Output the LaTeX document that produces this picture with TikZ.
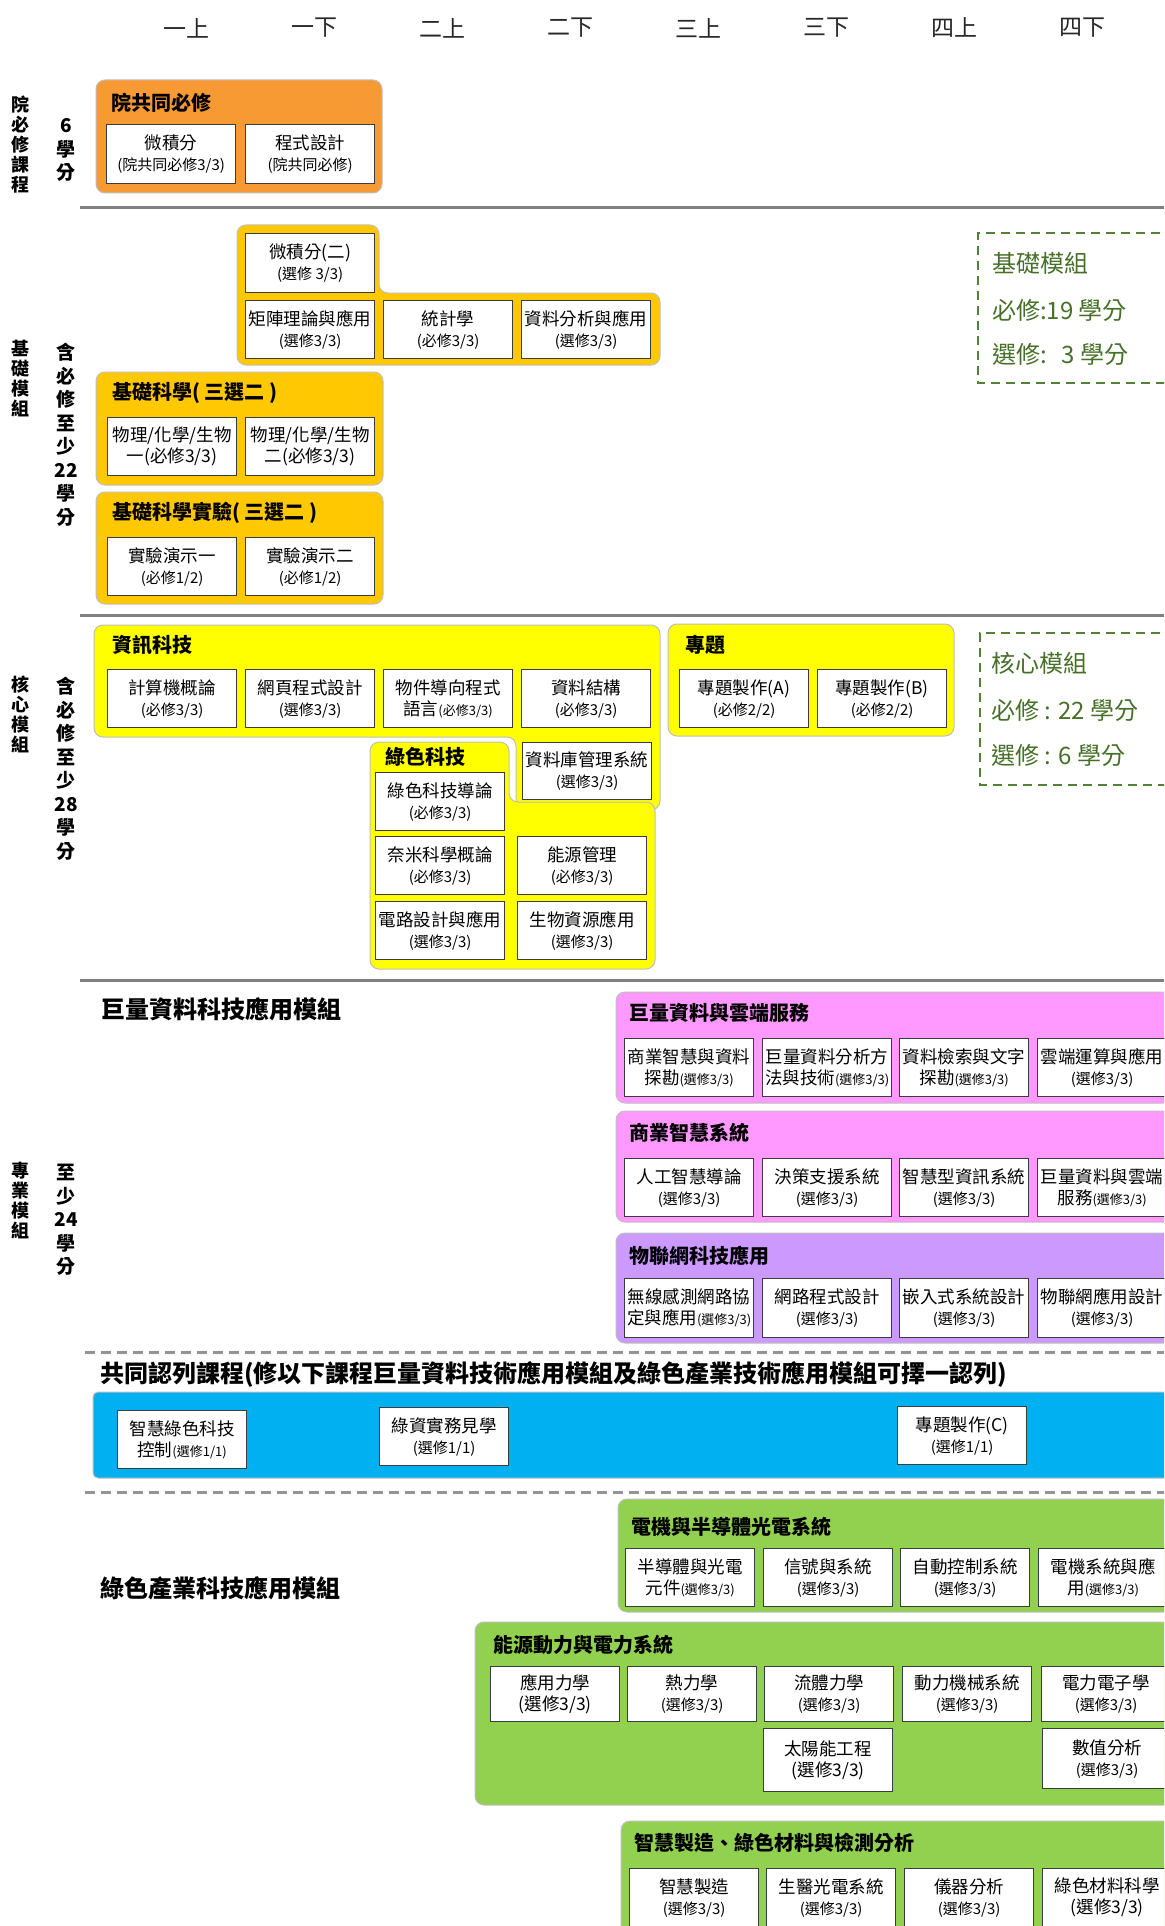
\documentclass[tikz,border=0pt]{standalone}
\usepackage{fontspec}
\setmainfont{Noto Sans CJK TC}
\usepackage{tikz}

\definecolor{orangegrp}{RGB}{248,154,52}
\definecolor{goldgrp}{RGB}{255,200,0}
\definecolor{yellowgrp}{RGB}{255,255,0}
\definecolor{pinkgrp}{RGB}{255,153,255}
\definecolor{purplegrp}{RGB}{204,153,255}
\definecolor{bluegrp}{RGB}{0,176,240}
\definecolor{greengrp}{RGB}{146,208,80}
\definecolor{notegreen}{RGB}{84,130,53}
\definecolor{notetext}{RGB}{70,112,40}
\definecolor{boxline}{RGB}{60,60,60}
\definecolor{sepgray}{RGB}{128,128,128}

\newcommand\subtxt[1]{{\fontsize{15}{21}\selectfont #1}}
\newcommand\smtxt[1]{{\fontsize{13}{21}\selectfont #1}}

\begin{document}
\begin{tikzpicture}[x=1pt, y=-1pt,
        course/.style={draw=boxline, fill=white, line width=1.3pt, anchor=north west,
            minimum width=129pt, minimum height=58pt, inner xsep=1pt, inner ysep=0pt,
            align=center, font=\fontsize{17.5}{21}\selectfont},
        grp/.style={draw=black!25, line width=1pt, rounded corners=9pt},
        grptitle/.style={anchor=west, inner sep=0pt, font=\fontsize{20}{24}\selectfont\bfseries},
        sect/.style={anchor=west, inner sep=0pt, font=\fontsize{24}{28}\selectfont\bfseries},
        term/.style={inner sep=0pt, text=black!85, font=\fontsize{23}{26}\selectfont},
        sidelab/.style={align=center, inner sep=0pt, font=\fontsize{18}{20}\selectfont\bfseries},
        credit/.style={align=center, inner sep=0pt, font=\fontsize{19}{23.5}\selectfont\bfseries},
        note/.style={anchor=west, inner sep=0pt, text=notetext, font=\fontsize{24}{28}\selectfont},
        notebox/.style={draw=notegreen, line width=2.5pt, dash pattern=on 9pt off 6pt},
        sepline/.style={draw=sepgray, line width=3pt},
        sepdash/.style={draw=sepgray!85, line width=3pt, dash pattern=on 10pt off 6pt}]
        \useasboundingbox (0,0) rectangle (1164,1926);
        \clip (0,0) rectangle (1164,1926);

        \foreach \t [count=\i from 0] in {一上,一下,二上,二下,三上,三下,四上,四下}
            \node[term] (term\i) at (186+128*\i,28) {\t};

        \node[sidelab] (modCollege) at (20,145) {院\\必\\修\\課\\程};
        \node[credit] (credCollege) at (66,150) {6\\學\\分};
        \draw[grp, fill=orangegrp] (96,80) rectangle (382,193);
        \node[grptitle] (collegeT) at (111,103) {院共同必修};
        \node[course, minimum height=59pt] (calcA) at (106,124) {微積分\\\subtxt{(院共同必修3/3)}};
        \node[course, minimum height=59pt] (prog) at (245,124) {程式設計\\\subtxt{(院共同必修)}};

        \draw[sepline] (80,208) -- (1164,208);

        \node[sidelab] (modBase) at (20,379) {基\\礎\\模\\組};
        \node[credit] (credBase) at (66,435) {含\\必\\修\\至\\少\\22\\學\\分};
        \draw[grp, fill=goldgrp] (237,225) -- (379,225) -- (379,293) -- (660,293) -- (660,365) -- (237,365) -- cycle;
        \node[course, minimum height=59pt] (calcB) at (245,233) {微積分(二)\\\subtxt{(選修 3/3)}};
        \node[course] (linalg) at (245,300) {矩陣理論與應用\\\subtxt{(選修3/3)}};
        \node[course] (stat) at (383,300) {統計學\\\subtxt{(必修3/3)}};
        \node[course] (dataana) at (521,300) {資料分析與應用\\\subtxt{(選修3/3)}};
        \draw[grp, fill=goldgrp] (96,372) rectangle (383,485);
        \node[grptitle] (sciT) at (112,393) {基礎科學( 三選二 )};
        \node[course] (sciA) at (107,417) {物理/化學/生物\\一(必修3/3)};
        \node[course] (sciB) at (245,417) {物理/化學/生物\\二(必修3/3)};
        \draw[grp, fill=goldgrp] (96,492) rectangle (383,604);
        \node[grptitle] (labT) at (112,513) {基礎科學實驗( 三選二 )};
        \node[course] (labA) at (107,537) {實驗演示一\\\subtxt{(必修1/2)}};
        \node[course] (labB) at (245,537) {實驗演示二\\\subtxt{(必修1/2)}};
        \draw[notebox] (1190,233) -- (978,233) -- (978,383) -- (1190,383);
        \node[note] (baseN1) at (992,263) {基礎模組};
        \node[note] (baseN2) at (992,310) {必修:19 學分};
        \node[note] (baseN3) at (992,354) {選修:\hspace{15pt}3 學分};

        \draw[sepline] (80,615) -- (1164,615);

        \node[sidelab] (modCore) at (20,714) {核\\心\\模\\組};
        \node[credit] (credCore) at (66,769) {含\\必\\修\\至\\少\\28\\學\\分};
        \draw[grp, fill=yellowgrp] (94,625) -- (660,625) -- (660,810) -- (516,810) -- (516,737) -- (94,737) -- cycle;
        \node[grptitle] (itT) at (112,645) {資訊科技};
        \node[course] (intro) at (107,669) {計算機概論\\\subtxt{(必修3/3)}};
        \node[course] (web) at (245,669) {網頁程式設計\\\subtxt{(選修3/3)}};
        \node[course] (oop) at (383,669) {物件導向程式\\語言\smtxt{(必修3/3)}};
        \node[course] (ds) at (521,669) {資料結構\\\subtxt{(必修3/3)}};
        \node[course, minimum height=57pt] (dbms) at (522,742) {資料庫管理系統\\\subtxt{(選修3/3)}};
        \draw[grp, fill=yellowgrp] (370,742) -- (509,742) -- (509,802) -- (655,802) -- (655,969) -- (370,969) -- cycle;
        \node[grptitle] (gtT) at (385,757) {綠色科技};
        \node[course] (gtintro) at (375,772) {綠色科技導論\\\subtxt{(必修3/3)}};
        \node[course] (nano) at (375,836) {奈米科學概論\\\subtxt{(必修3/3)}};
        \node[course] (energy) at (517,836) {能源管理\\\subtxt{(必修3/3)}};
        \node[course] (circuit) at (375,901) {電路設計與應用\\\subtxt{(選修3/3)}};
        \node[course] (bio) at (517,901) {生物資源應用\\\subtxt{(選修3/3)}};
        \draw[grp, fill=yellowgrp] (668,624) rectangle (954,736);
        \node[grptitle] (projT) at (685,645) {專題};
        \node[course] (projA) at (679,669) {專題製作(A)\\\subtxt{(必修2/2)}};
        \node[course] (projB) at (817,669) {專題製作(B)\\\subtxt{(必修2/2)}};
        \draw[notebox] (1190,633) -- (980,633) -- (980,785) -- (1190,785);
        \node[note] (coreN1) at (991,663) {核心模組};
        \node[note] (coreN2) at (991,710) {必修 : 22 學分};
        \node[note] (coreN3) at (991,755) {選修 : 6 學分};

        \draw[sepline] (80,980) -- (1164,980);

        \node[sidelab] (modPro) at (20,1201) {專\\業\\模\\組};
        \node[credit] (credPro) at (66,1220) {至\\少\\24\\學\\分};
        \node[sect] (bigdataT) at (101,1009) {巨量資料科技應用模組};
        \draw[grp, fill=pinkgrp] (616,992) rectangle (1190,1103);
        \node[grptitle] (cloudT) at (629,1013) {巨量資料與雲端服務};
        \node[course] (bimining) at (624,1038) {商業智慧與資料\\探勘\smtxt{(選修3/3)}};
        \node[course] (bdmethod) at (762,1038) {巨量資料分析方\\法與技術\smtxt{(選修3/3)}};
        \node[course] (textmining) at (899,1038) {資料檢索與文字\\探勘\smtxt{(選修3/3)}};
        \node[course] (cloud) at (1037,1038) {雲端運算與應用\\\subtxt{(選修3/3)}};
        \draw[grp, fill=pinkgrp] (616,1111) rectangle (1190,1222);
        \node[grptitle] (bisT) at (629,1133) {商業智慧系統};
        \node[course] (ai) at (624,1158) {人工智慧導論\\\subtxt{(選修3/3)}};
        \node[course] (dss) at (762,1158) {決策支援系統\\\subtxt{(選修3/3)}};
        \node[course] (iis) at (899,1158) {智慧型資訊系統\\\subtxt{(選修3/3)}};
        \node[course] (bdcloud) at (1037,1158) {巨量資料與雲端\\服務\smtxt{(選修3/3)}};
        \draw[grp, fill=purplegrp] (616,1233) rectangle (1190,1343);
        \node[grptitle] (iotT) at (629,1256) {物聯網科技應用};
        \node[course, minimum height=59pt] (wsn) at (624,1278) {無線感測網路協\\定與應用\smtxt{(選修3/3)}};
        \node[course, minimum height=59pt] (netprog) at (762,1278) {網路程式設計\\\subtxt{(選修3/3)}};
        \node[course, minimum height=59pt] (embedded) at (899,1278) {嵌入式系統設計\\\subtxt{(選修3/3)}};
        \node[course, minimum height=59pt] (iotapp) at (1037,1278) {物聯網應用設計\\\subtxt{(選修3/3)}};

        \draw[sepdash] (85,1352) -- (1164,1352);
        \node[sect] (commonT) at (100,1375) {共同認列課程(修以下課程巨量資料技術應用模組及綠色產業技術應用模組可擇一認列)};
        \draw[grp, fill=bluegrp, rounded corners=5pt] (93,1392) rectangle (1190,1478);
        \node[course] (smartgreen) at (117,1410) {智慧綠色科技\\控制\smtxt{(選修1/1)}};
        \node[course] (visit) at (379,1407) {綠資實務見學\\\subtxt{(選修1/1)}};
        \node[course] (projC) at (897,1406) {專題製作(C)\\\subtxt{(選修1/1)}};

        \draw[sepdash] (85,1492) -- (1164,1492);
        \node[sect] (greenT) at (100,1588) {綠色產業科技應用模組};
        \draw[grp, fill=greengrp] (618,1499) rectangle (1190,1612);
        \node[grptitle] (eeT) at (631,1527) {電機與半導體光電系統};
        \node[course] (semi) at (625,1548) {半導體與光電\\元件\smtxt{(選修3/3)}};
        \node[course] (signal) at (763,1548) {信號與系統\\\subtxt{(選修3/3)}};
        \node[course] (control) at (900,1548) {自動控制系統\\\subtxt{(選修3/3)}};
        \node[course] (machine) at (1038,1548) {電機系統與應\\用\smtxt{(選修3/3)}};
        \draw[grp, fill=greengrp] (475,1622) rectangle (1190,1805);
        \node[grptitle] (powerT) at (493,1645) {能源動力與電力系統};
        \node[course, minimum height=55pt] (mech) at (490,1666) {應用力學\\(選修3/3)};
        \node[course, minimum height=55pt] (thermo) at (627,1666) {熱力學\\\subtxt{(選修3/3)}};
        \node[course, minimum height=55pt] (fluid) at (764,1666) {流體力學\\\subtxt{(選修3/3)}};
        \node[course, minimum height=55pt] (powermech) at (902,1666) {動力機械系統\\\subtxt{(選修3/3)}};
        \node[course, minimum height=55pt] (powerel) at (1041,1666) {電力電子學\\\subtxt{(選修3/3)}};
        \node[course, minimum height=63pt] (solar) at (763,1728) {太陽能工程\\(選修3/3)};
        \node[course, minimum height=60pt] (numeric) at (1042,1728) {數值分析\\\subtxt{(選修3/3)}};
        \draw[grp, fill=greengrp] (621,1821) rectangle (1190,1960);
        \node[grptitle] (manuT) at (634,1843) {智慧製造、綠色材料與檢測分析};
        \node[course] (smartmanu) at (629,1868) {智慧製造\\\subtxt{(選修3/3)}};
        \node[course] (biophoto) at (766,1868) {生醫光電系統\\\subtxt{(選修3/3)}};
        \node[course] (instr) at (904,1868) {儀器分析\\\subtxt{(選修3/3)}};
        \node[course] (greenmat) at (1042,1868) {綠色材料科學\\(選修3/3)};
    \end{tikzpicture}
\end{document}
